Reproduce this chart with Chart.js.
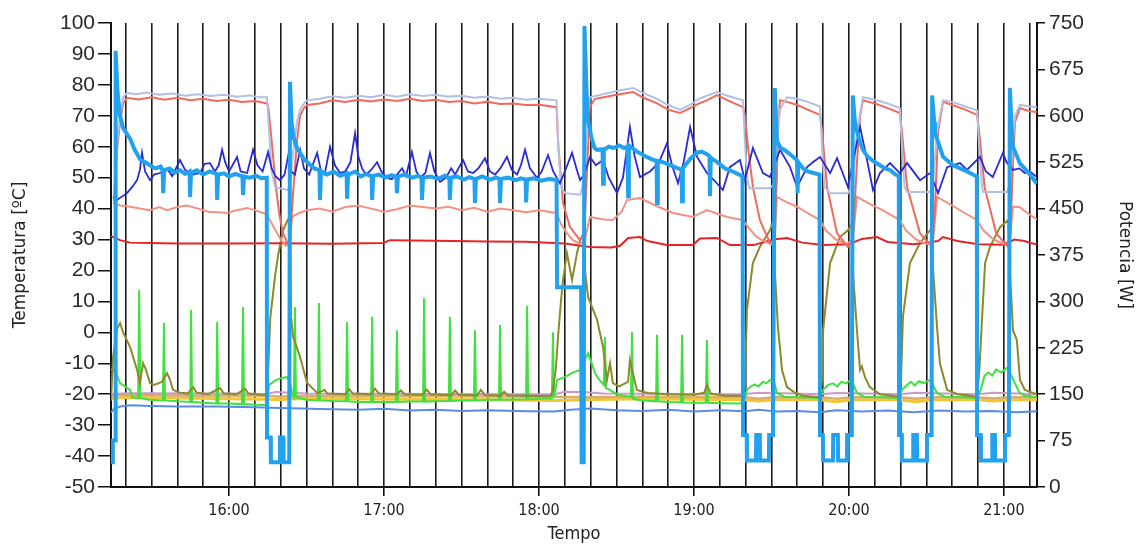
<!DOCTYPE html>
<html>
<head>
<meta charset="utf-8">
<script src="https://cdn.jsdelivr.net/npm/chart.js@4.4.1/dist/chart.umd.min.js"></script>
<style>
  html, body { margin: 0; padding: 0; background: #fff; }
  #chartCanvas { display: block; }
</style>
</head>
<body>
<canvas id="chartCanvas" width="1139" height="545"></canvas>
<script>
// time axis in minutes after 15:00
const hourTicks = [60, 120, 180, 240, 300, 360];
const hourLabels = ["16:00", "17:00", "18:00", "19:00", "20:00", "21:00"];
const tempTicks = [-50, -40, -30, -20, -10, 0, 10, 20, 30, 40, 50, 60, 70, 80, 90, 100];
const powerTicks = [0, 75, 150, 225, 300, 375, 450, 525, 600, 675, 750];

// [minute, W]  thick light blue, right axis
const potencia = [
  [14.3, 40], [14.9, 40], [15.0, 75], [15.9, 75], [16.1, 705], [16.8, 640], [17.8, 600], [19.0, 580], [21.7, 563],
  [23.5, 545], [25.5, 530], [27.5, 525], [29.4, 520], [31.5, 515], [33.5, 518], [34.3, 512], [34.5, 475], [34.9, 512],
  [37, 515], [39, 508], [41, 512], [43, 506], [44.7, 510], [44.9, 469], [45.3, 508], [47.5, 512], [50, 505], [52.5, 510],
  [55.2, 506], [55.4, 464], [55.8, 505], [58, 507], [60, 502], [62.5, 506], [65.2, 502], [65.4, 472], [65.8, 502],
  [68, 500], [70.5, 503], [72.5, 499], [74.6, 500],
  [74.7, 80], [76.1, 80], [76.2, 40], [79.6, 40], [79.7, 80], [81.0, 80], [81.1, 40], [83.3, 40], [83.6, 655],
  [84.2, 590], [85.0, 565], [86.3, 548], [87.5, 540], [89, 530], [91, 522], [93, 515], [95.0, 512], [95.2, 464], [95.6, 510],
  [98, 505], [100.5, 510], [103, 503], [105.5, 507], [105.7, 466], [106.1, 505], [108.8, 510], [111, 502], [113, 506],
  [115.2, 502], [115.4, 464], [115.8, 503], [118, 505], [120.5, 500], [123, 504], [124.8, 501], [125, 475], [125.4, 502],
  [128, 505], [131, 500], [133, 503], [134.5, 500], [134.7, 464], [135.1, 500], [138, 502], [141, 498], [143.5, 503],
  [145.3, 499], [145.5, 464], [145.9, 500], [148, 502], [151, 497], [153, 501], [155, 498], [155.2, 459], [155.6, 498],
  [158, 502], [161, 497], [163.5, 500], [164.7, 498], [164.9, 459], [165.3, 498], [168, 500], [171, 496], [173, 499],
  [174.8, 497], [175, 460], [175.4, 497], [178, 499], [181, 495], [184, 498], [186.8, 496],
  [187.0, 323], [196.3, 323], [196.5, 40], [197.3, 40], [197.6, 745],
  [198.4, 640], [199.0, 593], [200.3, 565], [201.5, 548], [202.5, 545], [204.6, 546], [204.8, 490], [205.1, 545],
  [207, 550], [209, 548], [211, 552], [213, 548], [214.3, 550], [214.5, 470], [214.8, 552], [216, 548], [218, 542],
  [221, 535], [223.5, 530], [225.5, 527], [225.7, 459], [226.0, 527], [228, 525], [231, 520], [233.8, 515], [235.2, 513],
  [235.4, 462], [235.7, 515], [238.5, 530], [241, 540], [243, 542], [245, 538], [246.0, 535], [246.2, 470], [246.5, 532],
  [249, 525], [252, 515], [255, 510], [257.5, 505], [258.8, 502],
  [259.0, 84], [260.4, 84], [260.5, 43], [264.0, 43], [264.1, 84], [265.5, 84], [265.6, 43], [269.0, 43], [269.1, 84],
  [270.6, 84], [271.3, 645],
  [272.1, 560], [273.5, 548], [275, 545], [276.5, 540], [278, 535], [279.9, 528], [280.1, 475], [280.4, 525],
  [282.2, 515], [284, 510], [286, 508], [288.6, 505],
  [288.8, 84], [289.9, 84], [290.0, 43], [293.8, 43], [293.9, 84], [295.7, 84], [295.8, 43], [299.2, 43], [299.3, 84],
  [301.1, 84], [301.5, 633],
  [302.3, 590], [303.1, 575], [304.5, 555], [305.4, 545], [307, 535], [309.3, 527], [312, 520], [314, 515], [316, 512],
  [318, 505], [319.3, 503],
  [319.4, 84], [320.4, 84], [320.5, 43], [324.8, 43], [324.9, 84], [326.3, 84], [326.4, 43], [330.1, 43], [330.2, 84],
  [332.0, 84], [332.2, 633],
  [333.0, 590], [333.3, 572], [334.5, 558], [336.4, 534], [338, 528], [340.3, 520], [343, 515], [345.7, 510],
  [348, 505], [349.5, 502],
  [349.6, 84], [351.0, 84], [351.1, 43], [355.4, 43], [355.5, 84], [356.5, 84], [356.6, 43], [360.4, 43], [360.5, 84],
  [361.9, 84], [362.3, 645],
  [363.1, 570], [363.5, 550], [365, 535], [366.2, 523], [368, 515], [370.1, 505], [372.8, 490]
];

// [minute, ºC]
const azulEscuro = [
  [15.1, 43.8], [16.6, 42.8], [20.5, 45], [22.5, 47], [24.4, 49.2], [25.5, 52.5], [26.3, 58], [27.5, 52], [29.4, 49.2],
  [31, 51], [33.3, 51.5], [36, 53], [38, 50.5], [41, 55.7], [43, 52.5], [46, 51], [48.8, 51.5], [50.5, 54.5], [52.6, 54.7],
  [54.5, 52], [56, 54], [57.3, 59], [58.5, 55], [60, 52], [63.1, 56.7], [64.5, 52], [67, 51.5], [69.3, 59], [71, 54],
  [73, 52], [75.1, 58.3], [76.5, 53], [78, 50.5], [79.7, 49.2], [81.5, 51], [82.8, 56.7], [84, 52], [85.5, 51],
  [87.5, 59], [89, 53], [91, 51], [94.1, 58], [95.5, 52.5], [97, 51], [99.1, 60], [101, 54], [103, 51.5], [105, 52],
  [107, 55], [108.8, 64.4], [110, 57], [111.5, 53], [113, 51], [115, 52.5], [117.3, 55], [119, 52], [121, 50],
  [123, 49.5], [125, 51], [127, 53], [128.5, 50.5], [130.8, 58.3], [132.5, 52], [134, 50], [136, 51.5], [137.8, 58],
  [139.5, 52], [141.7, 48.6], [144, 50], [146, 53], [147.5, 51], [150.6, 55.7], [152.5, 52], [154.5, 51.5], [156.5, 53],
  [159.1, 56.3], [161, 52], [163, 51], [165, 53], [167.6, 56.7], [169.5, 52.5], [171.5, 51], [173, 54], [174.6, 59],
  [176.5, 53], [179.2, 50], [181, 52], [183.5, 57.3], [185.5, 52], [188.1, 48.2], [190, 52], [192.8, 58], [194.5, 53],
  [195.9, 49.2], [197.5, 51], [199.7, 56.7], [202, 54], [204.8, 55.7], [207, 50], [210.2, 45], [212.5, 50], [215.2, 66.4],
  [217, 57], [219.1, 50.2], [223, 52], [226.5, 55], [229.5, 61], [231.5, 54], [233.8, 48.2], [236, 55], [238.5, 66.4],
  [241.2, 56.7], [245, 51.5], [248, 49], [251.2, 46], [253.9, 53.4], [257.8, 55.7], [259.7, 49.2], [262.8, 59.6],
  [266.7, 51.5], [269.4, 50.2], [273.3, 59], [277.2, 53.4], [279.9, 47], [283.8, 53.4], [286, 55], [288.8, 56.7],
  [292.7, 51.5], [295.4, 56.3], [299.6, 47], [304.3, 66.4], [307, 55.7], [309.3, 46], [312, 51.5], [315.9, 54.7],
  [319.7, 51.5], [322.5, 54.7], [327.5, 49.2], [331.4, 51.5], [334.5, 45], [338, 53.4], [343, 54.7], [345.7, 52.5],
  [350.7, 56.7], [353, 52], [355.7, 50.2], [359.6, 58], [361, 55], [363.5, 52.5], [366, 53], [368, 51.5], [370, 52],
  [372.8, 50.2]
];

const cinza = [
  [15.5, 45], [16.5, 60], [17.8, 70], [19, 76], [20.5, 77.4], [24, 77], [28, 77.5], [33, 76.8], [38, 77.2], [43, 76.5],
  [48, 77], [53, 76.4], [58, 76.8], [63, 76.2], [68, 76.6], [72, 76], [74.7, 76],
  [75.5, 65], [76.5, 52], [77.8, 47], [80, 46.5], [82.8, 46], [83.6, 48], [84.8, 58], [86.3, 68], [87.5, 72], [89, 74],
  [90.2, 75], [95, 75.5], [100, 76.3], [105, 75.8], [110, 76.5], [115, 76], [120, 76.8], [125, 76.2], [130, 77],
  [135, 76.4], [140, 76.8], [145, 76.2], [150, 76.5], [155, 75.8], [160, 76.2], [165, 75.5], [170, 75.8], [175, 75.2],
  [180, 75.5], [186.8, 75],
  [187.5, 60], [188.5, 47], [190, 45], [196, 44.5], [197.5, 50], [199, 70], [199.7, 76], [205, 77], [210, 78],
  [216.4, 79], [220, 77.5], [225.7, 75.5], [230, 73.5], [234.6, 72], [238.5, 73.5], [242, 75.5], [245, 76.5],
  [248.9, 77.7], [253, 76.5], [259, 75],
  [259.7, 62], [260.5, 50], [261.5, 46.6], [269.4, 46.6], [271, 48], [272.1, 62], [273.3, 72], [276, 76], [280, 75.5],
  [284, 74.5], [288.8, 73],
  [289.6, 60], [290.5, 47], [292.7, 45], [299.6, 45], [301.5, 48], [303.1, 65], [305.4, 76], [310, 75.2], [315, 74],
  [319.7, 72.5],
  [320.5, 60], [321.5, 47], [322.5, 45.4], [331.4, 45.4], [332.6, 48], [334.1, 65], [336.4, 75], [340, 74.5], [345, 73],
  [349.6, 71.8],
  [350.4, 60], [351.5, 47], [352, 45.4], [361.2, 45.4], [362.3, 48], [363.5, 62], [364.3, 70], [366.2, 73.5], [370, 73],
  [372.8, 72.8]
];

const salmao = [
  [15.5, 42], [16.5, 58], [17.8, 68], [19, 74], [20.5, 75.8], [25, 75.3], [30, 76], [35, 75.2], [40, 75.8], [45, 75],
  [50, 75.5], [55, 74.8], [60, 75.2], [65, 74.5], [70, 74.8], [74.7, 74],
  [75.2, 72.8], [76.5, 62], [78, 48], [79.5, 38], [80.9, 32], [82.8, 28.5], [83.6, 30], [84.8, 45], [86.3, 62],
  [87.5, 70], [89, 72.5], [90.2, 73.5], [95, 74], [100, 75], [105, 74.5], [110, 75.2], [115, 74.6], [120, 75.3],
  [125, 74.8], [130, 75.5], [135, 74.8], [140, 75.2], [145, 74.5], [150, 74.8], [155, 74], [160, 74.5], [165, 73.8],
  [170, 74], [175, 73.5], [180, 73.6], [186.8, 72.8],
  [187.5, 60], [189.3, 41.8], [192, 34], [195.9, 29.8], [197.5, 32], [199, 60], [199.7, 73], [201.7, 75.5], [205, 76],
  [210, 76.8], [216.4, 77.7], [220, 76], [225.7, 74], [230, 72], [234.6, 70.9], [238.5, 72.5], [242, 74], [245, 75],
  [248.9, 76.7], [253, 75], [259, 72.8],
  [259.7, 70], [260.9, 60], [262.8, 47], [265.5, 36.3], [269.4, 28.9], [271, 30], [272.1, 50], [272.5, 65], [273.3, 75],
  [276, 74.5], [280, 73.5], [284, 72], [288.8, 70.3],
  [289.6, 65], [291.5, 47], [295.4, 32], [299.6, 27.6], [301.5, 30], [303.1, 55], [304.3, 70], [305.4, 75], [310, 74],
  [315, 72.5], [319.7, 70.9],
  [320.5, 65], [322.5, 47], [327.5, 32], [332.2, 27.6], [333.3, 40], [334.5, 65], [336.4, 74.5], [340, 73.5], [345, 72],
  [349.6, 70.3],
  [350.4, 65], [352.5, 47], [357, 32], [361.6, 27.6], [362.5, 32], [363.5, 55], [364.3, 68], [366.2, 72.5],
  [370, 71.5], [372.8, 71.2]
];

const salmaoClaro = [
  [15.1, 41.8], [17.8, 41], [21.7, 40.6], [25.5, 40], [29.4, 39.5], [33, 40.5], [36, 39.5], [40, 40.5], [43.7, 41],
  [48, 40], [52, 39], [56, 38.8], [59.2, 38.6], [63, 39.5], [67, 40.2], [70, 39.5], [73.2, 38.6],
  [74.7, 38], [76, 36], [78, 33], [80, 30], [82, 28], [83.6, 30], [84.4, 37.3], [87, 38.5], [90.2, 39.5],
  [95, 40], [100, 39], [105, 40.5], [110, 41], [115, 40], [120, 39], [125, 39.8], [130, 41], [135, 40.5], [140, 40],
  [145, 40.6], [150, 39.5], [155, 40.3], [160, 39], [165, 40], [170, 39.5], [175, 38.8], [180, 39.5], [186.8, 38.6],
  [188.5, 35], [190.8, 32], [193.2, 29.8], [196, 28.5], [197.8, 30], [199.7, 37.3], [205, 36.5], [208.6, 36.3],
  [212, 39], [214.1, 42.8], [219.1, 43.4], [225, 41], [231.9, 38.6], [239.6, 37.3], [245, 39.5], [252.8, 37.3],
  [259, 36.3],
  [261, 34], [264, 31], [267, 29.5], [270, 28.5], [271.3, 30], [272.1, 43.8], [276, 42], [279.9, 40.6], [284, 38.5],
  [288.8, 36.3],
  [291, 33], [295, 30], [299, 28.5], [301.5, 30], [303.1, 43.8], [308, 41.5], [313, 39.5], [319.7, 36.3],
  [322, 33], [326, 30], [330, 28.5], [332.6, 30], [334.1, 43.8], [340, 41], [345, 38.5], [349.6, 36.3],
  [352, 33], [356, 30], [360, 28.5], [362.3, 30], [363.5, 40.6], [366, 40.5], [370, 38], [372.8, 36.5]
];

const vermelho = [
  [14.3, 31], [15.1, 30.8], [17.8, 29.8], [21.7, 29], [29.4, 28.9], [40, 28.7], [60, 28.7], [80, 28.8], [100, 28.6],
  [119.6, 28.9], [122.3, 29.8], [140, 29.6], [160, 29.4], [175, 29.3], [190, 28.7], [199.7, 27.6], [208, 27.4],
  [211.4, 28], [214.5, 30.5], [219.1, 30.8], [222, 29.5], [229.5, 28.2], [239.6, 28.2], [242.3, 30.3], [248.9, 30.5],
  [253.9, 28.2], [263, 28.2], [270.6, 30], [276, 30.5], [282, 29], [290, 28.2], [300, 28.5], [305, 30.2], [310.8, 30.8],
  [315, 29.2], [325, 28.5], [334.5, 29.5], [336.4, 30.8], [342, 29.5], [350, 28.5], [360, 28.3], [364, 30],
  [368, 29.5], [370.1, 28.9], [372.8, 28.5]
];

const oliva = [
  [14.3, -22], [15.1, -8], [16.6, 1], [17.8, 3], [19, 0], [21.7, -4.8], [24.4, -12.2], [25.5, -16.4], [26.7, -10],
  [27.8, -12], [29.4, -16.4], [31, -17], [34, -16], [36, -13.2], [37, -15], [38.3, -18.6], [41, -19.5], [44, -19.8],
  [46.1, -17.7], [47.5, -19.5], [52, -20], [56.5, -18], [58, -19.8], [63, -20], [66.2, -18.2], [67.5, -19.8],
  [72, -20.2], [74.7, -20.3],
  [75.5, -5], [76, 5], [77.8, 18], [79, 25], [80.9, 33], [82.8, 36.5], [83.6, 37],
  [84.0, 5], [84.8, -1.5], [85.5, -3], [87.5, -8], [90.2, -16.4], [94.1, -19.6], [96, -19], [97, -18.6], [98, -19.8],
  [105, -20], [106.5, -18.4], [108, -19.8], [115, -20], [116.5, -18.2], [118, -19.8], [125, -20], [126.5, -18.8],
  [128, -20], [135, -20.2], [136.5, -18.5], [138, -20], [146, -20.3], [147.5, -18.8], [149, -20.2], [156, -20.4],
  [157.5, -18.6], [159, -20.3], [165, -20.5], [166.5, -19.2], [168, -20.4], [175, -20.5], [180, -20.6], [184.5, -20.5],
  [185.4, -18.6], [186.5, -12], [187.5, 0], [188.5, 10], [189.3, 16.9], [190.8, 25.6], [192.8, 16.9], [194.7, 25.6],
  [195.9, 29.8], [197.2, 32],
  [197.8, 20], [199, 11.4], [202.5, 4], [204.8, -4.8], [206.3, -15.4], [207.5, -10], [208.6, -16.4], [211, -17.5],
  [214.5, -16], [215.2, -9], [216, -12], [217.9, -18.6], [222, -19.6], [230, -20], [240, -20.2], [244, -19.5],
  [245, -17], [246.5, -19.8], [252, -20.5], [259, -20.5],
  [259.7, -18], [260.5, 7.2], [262.8, 22.4], [265.5, 27.6], [269.4, 33], [270.6, 36],
  [271.3, 20], [272.5, 1.7], [274.1, -12.2], [276, -17.7], [279, -19.5], [282.2, -20.5], [288.8, -21],
  [289.6, -15], [290, 0.7], [292.7, 22.4], [296.5, 30.8], [299.6, 33], [301.1, 35],
  [301.5, 20], [303.1, 0.7], [304.3, -12.2], [305, -11], [306.2, -14.5], [308.1, -17.7], [312, -20], [319.4, -20.8],
  [320.2, -14], [320.9, 5], [323.6, 22.4], [327.5, 28.9], [331.4, 33], [332.2, 34],
  [332.6, 20], [334.1, 1.7], [335.2, -10], [338, -18.6], [342, -20], [349.6, -20.8],
  [350.5, -12], [351.5, 4], [352.7, 22.4], [354.6, 27.6], [358.5, 34], [361.6, 36.3],
  [362.3, 20], [363.5, 0.7], [365, -2.5], [366.2, -15.4], [368.1, -18.6], [372.8, -20]
];

const verde = [
  [14.3, -12], [15.1, -12], [16.6, -14], [17.8, -16.4], [21.7, -18.6], [22.5, -21], [24.8, -21.3], [25.2, 13.7],
  [25.7, -21.3], [29, -21.8], [34.4, -22], [34.8, 3], [35.2, -22], [40, -22.3], [45.0, -22.5], [45.3, 7.2],
  [45.7, -22.5], [50, -22.8], [55.1, -23], [55.4, 3.3], [55.8, -23], [60, -23], [65.0, -23.2], [65.4, 8.2],
  [65.8, -23.2], [70, -23.4], [74.7, -23.5],
  [75.5, -17], [76.5, -16.4], [78, -15.5], [80, -14.8], [82.5, -14.5], [83.6, -16],
  [84.5, -20], [85.1, -21], [85.5, 8.2], [85.9, -21], [90, -21.8], [94.4, -22], [94.8, 9.5], [95.2, -22], [100, -22.2],
  [105.3, -22.3], [105.7, 3.3], [106.1, -22.3], [110, -22.5], [115.0, -22.5], [115.4, 5], [115.8, -22.5], [120, -22.5],
  [124.6, -22.5], [125, 0.7], [125.4, -22.5], [130, -22.4], [135.1, -22.4], [135.5, 11], [135.9, -22.4], [140, -22.3],
  [145.1, -22.2], [145.5, 5], [145.9, -22.2], [150, -22], [154.8, -22], [155.2, 0.7], [155.6, -22], [160, -21.8],
  [164.5, -21.8], [164.9, 2.4], [165.3, -21.8], [170, -21.7], [175.0, -21.6], [175.4, 8.5], [175.8, -21.6],
  [180, -21.5], [185.0, -21.3], [185.4, 0], [185.8, -21], [187, -15.4], [190, -14.5], [193, -13], [195.9, -12.2],
  [197, -10], [199, -6.8], [201.7, -13.2], [203, -15], [205.1, -17], [205.5, -1.5], [205.9, -18], [207.5, -18.6],
  [210, -20], [215.6, -21], [216, 0], [216.4, -21.5], [220, -22], [225.3, -22.3], [225.7, -0.8], [226.1, -22.3],
  [230, -22.5], [235.0, -22.6], [235.4, -0.8], [235.8, -22.7], [240, -22.8], [244.6, -22.8], [245, -2.5],
  [245.4, -22.8], [250, -22.9], [259, -23],
  [260.5, -18.6], [262, -17.5], [263.5, -16.8], [265, -17.5], [266.7, -16], [268, -16.5], [269.4, -15.4], [271, -16],
  [272.1, -19.6], [275, -20.8], [280, -21], [288.8, -21.2],
  [290, -18.6], [292, -17], [293.8, -16.5], [295.5, -17.5], [297, -16], [299, -16.5], [300.5, -15.5], [301.5, -16.5],
  [303.1, -19.6], [306, -20.8], [312, -21], [319.4, -21.2],
  [320.5, -18.6], [322.5, -17], [324, -16], [325.5, -17.2], [327, -15.8], [329, -16.4], [331, -15.5], [332.2, -16.5],
  [334.1, -19.6], [337, -20.8], [343, -21], [349.6, -21.2],
  [351, -18.6], [352.5, -14], [354, -13], [355.5, -14], [357, -12], [359, -13], [361, -11.5], [362.3, -13],
  [364, -16], [366, -19.5], [368, -20.5], [372.8, -21]
];

const rosa = [
  [14.3, -20], [20, -19.7], [60, -19.8], [74.7, -19.9], [78, -19.3], [83.6, -19.5], [90, -19.8], [140, -19.9],
  [186, -20], [190, -19.2], [197, -19.3], [205, -19.8], [259, -20], [265, -19.5], [271, -19.6], [288.8, -20],
  [295, -19.6], [301.5, -19.7], [319.4, -20], [326, -19.5], [332.2, -19.7], [349.6, -20], [356, -19.5],
  [362.3, -19.7], [372.8, -20]
];

const castanho = [
  [14.3, -20.5], [20, -20.2], [40, -20.4], [74.7, -20.5], [80, -20.8], [83.6, -20.6], [120, -20.6], [186, -20.8],
  [197, -21], [220, -20.8], [259, -20.9], [265, -21.5], [271, -21], [288.8, -21], [295, -21.5], [301.5, -21],
  [319.4, -21], [326, -21.5], [332.2, -21], [349.6, -21], [356, -21.4], [362.3, -21], [372.8, -21]
];

const amarelo = [
  [14.3, -21.5], [20, -21], [40, -21.2], [60, -21.5], [74.7, -21.6], [80, -21.8], [83.6, -21.5], [100, -21.5],
  [130, -21.6], [160, -21.8], [186, -22], [197, -21.8], [220, -21.5], [250, -21.7], [259, -21.8], [265, -22.2],
  [271, -21.8], [288.8, -21.8], [295, -22.4], [301.5, -21.8], [319.4, -21.8], [326, -22.4], [332.2, -21.8],
  [349.6, -21.8], [356, -22.2], [362.3, -21.8], [372.8, -21.8]
];

const azul = [
  [14.3, -26], [15.1, -25], [17.8, -24], [22, -23.6], [30, -23.8], [40, -24], [55, -24], [70, -24.2], [80, -24.5],
  [95, -24.8], [110, -25], [120, -24.7], [130, -25.3], [140, -25], [150, -25.4], [160, -25.2], [175, -25.5],
  [186, -25.6], [192, -25], [200, -24.6], [210, -25.2], [220, -25.4], [230, -25], [240, -25.6], [250, -25.2],
  [260, -25.5], [265, -25], [272, -25.6], [280, -25.4], [288.8, -25.8], [295, -25.2], [305, -25.6], [315, -25.3],
  [325, -25.8], [335, -25.3], [345, -25.6], [355, -25.4], [365, -25.8], [372.8, -25.5]
];

const xMin = 14.3, xMax = 372.8;
const gridStep = 10;

function pts(arr) {
  return arr.map(function (p) { return { x: p[0], y: p[1] }; });
}

function serie(label, arr, color, width, axis) {
  return {
    label: label,
    data: pts(arr),
    borderColor: color,
    backgroundColor: color,
    borderWidth: width,
    pointRadius: 0,
    tension: 0,
    fill: false,
    yAxisID: axis || "y"
  };
}

// first dataset is drawn on top
const datasets = [
  serie("Potencia", potencia, "#22A2EE", 4, "y2"),
  serie("T1", azulEscuro, "#2B2BD6", 1.8),
  serie("T2", cinza, "#B3C0E2", 2),
  serie("T3", salmao, "#F0695C", 2),
  serie("T4", salmaoClaro, "#F39282", 2),
  serie("T5", vermelho, "#E62428", 2),
  serie("T6", oliva, "#8C8A2C", 2),
  serie("T7", verde, "#3FE040", 2),
  serie("T8", rosa, "#C99BC4", 2),
  serie("T9", castanho, "#D8AE6C", 2.5),
  serie("T10", amarelo, "#F3C534", 3),
  serie("T11", azul, "#5A8BE6", 2)
];

const tickFont = { family: "'Liberation Sans', Arial, sans-serif", size: 21 };
const titleFont = { family: "'DejaVu Sans', sans-serif", size: 17 };
const narrowFont = "'Liberation Sans Narrow', 'DejaVu Sans Condensed', sans-serif";

new Chart(document.getElementById("chartCanvas").getContext("2d"), {
  type: "line",
  data: { datasets: datasets },
  options: {
    responsive: false,
    animation: false,
    devicePixelRatio: 1,
    layout: { padding: { top: 23, left: 0, right: 0, bottom: 0 } },
    plugins: { legend: { display: false }, tooltip: { enabled: false } },
    scales: {
      x: {
        type: "linear",
        min: xMin,
        max: xMax,
        afterBuildTicks: function (scale) {
          const t = [];
          for (let m = 20; m < xMax; m += gridStep) t.push({ value: m });
          scale.ticks = t;
        },
        afterFit: function (scale) { scale.height = 58; },
        grid: {
          color: "#1b1b1b",
          lineWidth: 1.6,
          tickLength: 9,
          tickColor: function (ctx) {
            return ctx.tick && hourTicks.indexOf(ctx.tick.value) >= 0 ? "#111" : "rgba(0,0,0,0)";
          }
        },
        border: { display: true, color: "#111", width: 2 },
        ticks: {
          autoSkip: false,
          maxRotation: 0,
          padding: 5,
          color: "#222",
          font: { family: narrowFont, size: 16 },
          callback: function (v) {
            const i = hourTicks.indexOf(v);
            return i >= 0 ? hourLabels[i] : "";
          }
        },
        title: {
          display: true,
          text: "Tempo",
          color: "#222",
          font: { family: narrowFont, size: 18 },
          padding: { top: 0, bottom: 0 }
        }
      },
      y: {
        position: "left",
        min: -50,
        max: 100,
        afterBuildTicks: function (scale) {
          scale.ticks = tempTicks.map(function (v) { return { value: v }; });
        },
        afterFit: function (scale) { scale.width = 111; },
        grid: { drawOnChartArea: false, tickLength: 13, tickColor: "#111", lineWidth: 1.5 },
        border: { display: true, color: "#111", width: 2 },
        ticks: { color: "#2a2a2a", font: tickFont, padding: 3 },
        title: {
          display: true,
          text: "Temperatura [ºC]",
          color: "#222",
          font: titleFont,
          padding: { top: 10, bottom: 0 }
        }
      },
      y2: {
        position: "right",
        min: 0,
        max: 750,
        afterBuildTicks: function (scale) {
          scale.ticks = powerTicks.map(function (v) { return { value: v }; });
        },
        afterFit: function (scale) { scale.width = 102; },
        grid: { drawOnChartArea: false, tickLength: 8, tickColor: "#111", lineWidth: 1.5 },
        border: { display: true, color: "#111", width: 2 },
        ticks: { color: "#2a2a2a", font: tickFont, padding: 4 },
        title: {
          display: true,
          text: "Potencia [W]",
          color: "#222",
          font: titleFont,
          padding: { top: 4, bottom: 0 }
        }
      }
    }
  }
});
</script>
</body>
</html>
